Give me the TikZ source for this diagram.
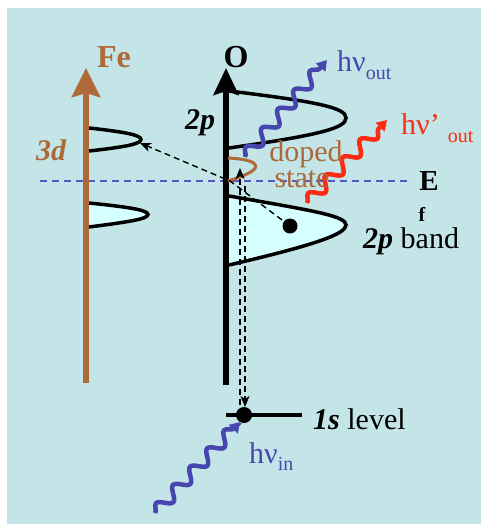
\documentclass[tikz,border=0pt]{standalone}
\usepackage{fontspec}
\setmainfont{Liberation Serif}
\usetikzlibrary{arrows.meta,decorations.pathmorphing}
\definecolor{bg}{HTML}{C4E5E8}
\definecolor{brownc}{HTML}{AD6A38}
\definecolor{bluew}{HTML}{4646AE}
\definecolor{redw}{HTML}{FF2A12}
\definecolor{bandfill}{HTML}{D6FFFF}
\definecolor{eline}{HTML}{5858BE}
\begin{document}
\begin{tikzpicture}[x=1pt,y=-1pt,
  big/.style={font=\fontsize{30}{30}\selectfont, inner sep=0pt},
  bandline/.style={line width=3.5pt, black},
  axisline/.style={line width=5.5pt},
  dsh/.style={black, line width=1.4pt, dash pattern=on 6pt off 4pt, -{Stealth[length=11pt,width=9pt,inset=3pt]}},
  wave/.style={line width=4.5pt, decorate, decoration={snake, amplitude=6pt, segment length=25pt, post length=7pt}, -{Triangle[length=10pt,width=12pt]}}
]
\useasboundingbox (0,0) rectangle (481,524);
\fill[bg] (7,8) rectangle (481,524);

% coordinates
\coordinate (fe0) at (86,383);
\coordinate (fe1) at (86,68);
\coordinate (o0) at (226,385);
\coordinate (o1) at (226,68);
\coordinate (el0) at (40,181);
\coordinate (el1) at (412,181);
\coordinate (dot2p) at (290,226);
\coordinate (kink) at (230,181);
\coordinate (tip3d) at (140,143);
\coordinate (up0) at (240,405);
\coordinate (up1) at (240,168);
\coordinate (dn0) at (245,186);
\coordinate (dn1) at (245,407);
\coordinate (dot1s) at (244,415);
\coordinate (s0) at (226,415);
\coordinate (s1) at (302,415);
\coordinate (wo0) at (245,157);
\coordinate (wo1) at (327,60);
\coordinate (wr0) at (307,203);
\coordinate (wr1) at (387,120);
\coordinate (wi0) at (155,513);
\coordinate (wi1) at (240,422);

% E level
\draw[eline, line width=1.5pt, dash pattern=on 7pt off 5pt] (el0) -- (el1);

% 3d bands
\draw[bandline] (89,128) .. controls (125,132) and (141,135) .. (141,139.5) .. controls (141,144) and (125,147) .. (89,151);
\fill[bandfill] (89,203) .. controls (128,207) and (148,210) .. (148,214.5) .. controls (148,219) and (128,222) .. (89,227) -- cycle;
\draw[bandline] (89,203) .. controls (128,207) and (148,210) .. (148,214.5) .. controls (148,219) and (128,222) .. (89,227);

% O 2p bands
\draw[bandline] (229,91) .. controls (320,102) and (346,108) .. (346,118) .. controls (346,128) and (320,135) .. (229,148);
\fill[bandfill] (229,196) .. controls (315,211) and (346,216) .. (346,225) .. controls (346,234) and (315,245) .. (229,265) -- cycle;
\draw[bandline] (229,196) .. controls (315,211) and (346,216) .. (346,225) .. controls (346,234) and (315,245) .. (229,265);

% axes
\draw[brownc, line width=6pt, -{Stealth[length=29pt,width=28pt,inset=4pt]}] (fe0) -- (fe1);
\draw[black, axisline, -{Stealth[length=27pt,width=25pt,inset=4pt]}] (o0) -- (o1);

% doped state
\draw[brownc, line width=3pt] (228,158) .. controls (265,160) and (265,170) .. (228,181);

% dashed transitions
\draw[dsh] (dot2p) -- (kink) -- (tip3d);
\draw[dsh] (up0) -- (up1);
\draw[dsh] (dn0) -- (dn1);

% 1s level
\draw[line width=4pt] (s0) -- (s1);

% photons
\draw[wave, bluew] (wo0) -- (wo1);
\draw[wave, redw] (wr0) -- (wr1);
\draw[wave, bluew] (wi0) -- (wi1);

% dots
\fill (dot2p) circle (7.5pt);
\fill (dot1s) circle (8pt);

% labels
\node[font=\fontsize{32}{32}\selectfont\bfseries, text=brownc, inner sep=0pt] (tfe) at (114,57) {Fe};
\node[font=\fontsize{32}{32}\selectfont\bfseries, inner sep=0pt] (to) at (236,57) {O};
\node[big, font=\fontsize{30}{30}\selectfont\bfseries\itshape, text=brownc] (t3d) at (51,150) {3d};
\node[big, font=\fontsize{30}{30}\selectfont\bfseries\itshape] (t2p) at (200,123) {2p};
\node[big, text=brownc, anchor=base] (tdoped) at (306,161) {doped};
\node[big, text=brownc, anchor=base] (tstate) at (302,187) {state};
\node[font=\fontsize{29}{29}\selectfont\bfseries, inner sep=0pt] (tE) at (429,181) {E};
\node[big, anchor=base west] (tband) at (363,248) {\textbf{\textit{2p}} band};
\node[font=\fontsize{20}{20}\selectfont\bfseries, inner sep=0pt] (tf) at (422,214) {f};
\node[big, anchor=base west, text=bluew] (tout) at (337,72) {hν\raisebox{-8pt}{\fontsize{20}{20}\selectfont out}};
\node[big, anchor=base west, text=redw] (tout2) at (401,135) {hν’\hspace{8pt}\raisebox{-8pt}{\fontsize{20}{20}\selectfont out}};
\node[big, anchor=base west, text=bluew] (tin) at (249,463) {hν\raisebox{-7pt}{\fontsize{20}{20}\selectfont in}};
\node[big, anchor=base west] (t1s) at (313,429) {\textbf{\textit{1s}} level};
\end{tikzpicture}
\end{document}
